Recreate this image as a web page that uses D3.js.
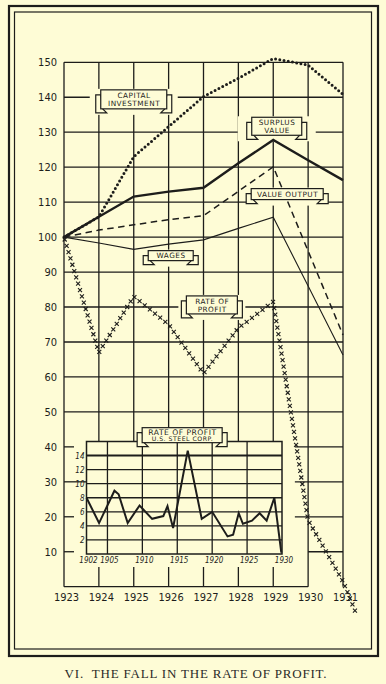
<!DOCTYPE html>
<html>
<head>
<meta charset="utf-8">
<script src="https://cdn.jsdelivr.net/npm/d3@7"></script>
<style>
  body { margin: 0; background: #fefcd6; }
  svg { display: block; }
</style>
</head>
<body>
<svg width="386" height="684"></svg>
<script>
// index numbers, 1923 = 100
var years = [1923, 1924, 1925, 1926, 1927, 1928, 1929, 1930, 1931];
var capitalInvestment = [100, 105.8, 123, 131.6, 140.2, 145.4, 151.1, 149.2, 140.8];
var surplusValue = [100, 105.8, 111.6, 113, 114.1, 121.1, 127.8, 122, 116.3];
var valueOutput = [100, 102, 103.5, 105, 106.1, 113.1, 120.1, 96, 72];
var wages = [100, 98.3, 96.5, 98, 99.2, 102.5, 105.7, 86, 66.3];
// rate of profit, the crosses run on a little past 1931
var profitYears = [1923, 1924, 1925, 1926, 1927, 1928, 1929, 1930, 1931, 1931.35];
var rateOfProfit = [100, 67, 83, 75, 61, 74, 81.5, 19, 1.5, -7];
var yTicks = [10, 20, 30, 40, 50, 60, 70, 80, 90, 100, 110, 120, 130, 140, 150];

// inset: rate of profit, U.S. Steel Corp. (per cent)
var steelYears = [1902, 1903.8, 1906, 1906.6, 1907.9, 1909.6, 1911.4, 1913, 1913.6, 1914.4,
  1916.5, 1918.5, 1920, 1922.2, 1923, 1923.8, 1924.4, 1925.7, 1926.8, 1927.8, 1928.9, 1929.9];
var steelProfit = [8, 4.4, 9, 8.5, 4.4, 6.9, 5, 5.4, 6.8, 3.7,
  14.7, 5, 6, 2.5, 2.75, 5.8, 4.3, 4.75, 5.8, 4.75, 8, 0.2];
var steelTicksX = [1902, 1905, 1910, 1915, 1920, 1925, 1930];
var steelTicksY = [2, 4, 6, 8, 10, 12, 14];

var seriesNames = ["CAPITAL|INVESTMENT", "SURPLUS|VALUE", "VALUE OUTPUT", "WAGES", "RATE OF|PROFIT"];
var insetTitle = ["RATE OF PROFIT", "U.S. STEEL CORP."];
var caption = "VI.  THE FALL IN THE RATE OF PROFIT.";

var bg = "#fefcd6", ink = "#1d1d1b";
var svg = d3.select("svg");
svg.append("rect").attr("width", 386).attr("height", 684).attr("fill", bg);

var x = d3.scaleLinear().domain([1923, 1931]).range([64, 343]);
var y = d3.scaleLinear().domain([0, 150]).range([586.7, 62.3]);
var xi = d3.scaleLinear().domain([1902, 1930]).range([86.5, 282]);
var yi = d3.scaleLinear().domain([0, 16]).range([554, 441.5]);

// banner placement (data coords of centre, box size)
var bannerLayout = [
  {at: [1925.0, 139.4], w: 66, h: 19, pad: 11},
  {at: [1929.1, 131.7], w: 50, h: 18, pad: 14},
  {at: [1929.4, 112.3], w: 72, h: 11, pad: 5},
  {at: [1926.06, 94.7], w: 45, h: 10, pad: 6},
  {at: [1927.24, 80.6], w: 51, h: 18, pad: 8}
];

// frame
svg.append("rect").attr("x", 9).attr("y", 6).attr("width", 369).attr("height", 650)
  .attr("fill", "none").attr("stroke", ink).attr("stroke-width", 2.2);
svg.append("rect").attr("x", 14.5).attr("y", 12).attr("width", 357).attr("height", 637)
  .attr("fill", "none").attr("stroke", ink).attr("stroke-width", 1.2);

var grid = svg.append("g").attr("stroke", ink).attr("stroke-width", 1.3);

// horizontal grid
grid.selectAll(".hfull").data(yTicks.filter(function(d) { return d >= 50; }))
  .enter().append("line")
  .attr("x1", x(1923)).attr("x2", x(1931))
  .attr("y1", function(d) { return y(d); }).attr("y2", function(d) { return y(d); });

var low = yTicks.filter(function(d) { return d < 50; });
grid.selectAll(".tick-left").data(low).enter().append("line")
  .attr("x1", x(1923))
  .attr("x2", function(d) { return d == 30 ? xi(1902) : x(1923) + 10; })
  .attr("y1", function(d) { return y(d); }).attr("y2", function(d) { return y(d); });
grid.selectAll(".tick-right").data(low).enter().append("line")
  .attr("x1", function(d) { return d == 10 ? x(1930) : x(1929.62); })
  .attr("x2", x(1931))
  .attr("y1", function(d) { return y(d); }).attr("y2", function(d) { return y(d); });

// gaps in the horizontal lines round the banners
svg.selectAll(".cover").data(bannerLayout).enter().append("rect")
  .attr("x", function(d) { return x(d.at[0]) - d.w / 2 - d.pad; })
  .attr("y", function(d) { return y(d.at[1]) - d.h / 2 - 1; })
  .attr("width", function(d) { return d.w + 2 * d.pad; })
  .attr("height", function(d) { return d.h + 7; })
  .attr("fill", bg);

// vertical grid
grid.selectAll(".v").data(years).enter().append("line")
  .attr("x1", function(d) { return x(d); }).attr("x2", function(d) { return x(d); })
  .attr("y1", y(150)).attr("y2", y(0));
grid.append("line").attr("x1", x(1923)).attr("x2", x(1930))
  .attr("y1", y(0)).attr("y2", y(0));

// axes labels
var axisFont = "'DejaVu Sans Condensed', 'DejaVu Sans', sans-serif";
var ya = svg.append("g").attr("transform", "translate(" + x(1923) + ",0)")
  .call(d3.axisLeft(y).tickValues(yTicks).tickSize(0).tickPadding(7).tickFormat(d3.format("d")));
ya.select(".domain").remove();
ya.selectAll("text").attr("font-family", axisFont).attr("font-stretch", "condensed")
  .attr("font-size", 11).attr("fill", ink);

var xa = svg.append("g").attr("transform", "translate(2," + y(0) + ")")
  .call(d3.axisBottom(x).tickValues(years).tickSize(0).tickPadding(6.5).tickFormat(d3.format("d")));
xa.select(".domain").remove();
xa.selectAll("text").attr("font-family", axisFont).attr("font-stretch", "condensed")
  .attr("font-size", 11).attr("fill", ink);

// ---- inset ----
var inset = svg.append("g");
inset.append("rect").attr("x", xi(1902)).attr("y", yi(16))
  .attr("width", xi(1930) - xi(1902)).attr("height", 567 - yi(16)).attr("fill", bg);
var ig = inset.append("g").attr("stroke", ink).attr("stroke-width", 1.3);
ig.selectAll(".h").data(steelTicksY).enter().append("line")
  .attr("x1", xi(1902)).attr("x2", xi(1930))
  .attr("y1", function(d) { return yi(d); }).attr("y2", function(d) { return yi(d); })
  .attr("stroke-width", function(d) { return d == 14 ? 2 : 1.3; });
ig.selectAll(".v").data(steelTicksX.slice(1, -1)).enter().append("line")
  .attr("x1", function(d) { return xi(d); }).attr("x2", function(d) { return xi(d); })
  .attr("y1", yi(16)).attr("y2", yi(0));
inset.append("rect").attr("x", xi(1902)).attr("y", yi(16))
  .attr("width", xi(1930) - xi(1902)).attr("height", yi(0) - yi(16))
  .attr("fill", "none").attr("stroke", ink).attr("stroke-width", 1.5);

inset.append("path")
  .datum(steelYears.map(function(d, i) { return [d, steelProfit[i]]; }))
  .attr("fill", "none").attr("stroke", ink).attr("stroke-width", 2).attr("stroke-linejoin", "miter")
  .attr("d", d3.line().x(function(d) { return xi(d[0]); }).y(function(d) { return yi(d[1]); }));

var insetFont = "'DejaVu Sans Condensed', 'DejaVu Sans', sans-serif";
var iya = inset.append("g").attr("transform", "translate(" + xi(1902) + ",0)")
  .call(d3.axisLeft(yi).tickValues(steelTicksY).tickSize(0).tickPadding(2));
iya.select(".domain").remove();
iya.selectAll("text").attr("font-family", insetFont).attr("font-style", "italic")
  .attr("font-size", 8).attr("fill", ink);
var ixa = inset.append("g").attr("transform", "translate(1.5," + yi(0) + ")")
  .call(d3.axisBottom(xi).tickValues(steelTicksX).tickSize(0).tickPadding(3).tickFormat(d3.format("d")));
ixa.select(".domain").remove();
ixa.selectAll("text").attr("font-family", insetFont).attr("font-style", "italic")
  .attr("font-size", 8).attr("fill", ink);

// ---- main series ----
function lineOf(xs, vs) {
  return d3.line().x(function(d) { return x(d[0]); }).y(function(d) { return y(d[1]); })
    (xs.map(function(d, i) { return [d, vs[i]]; }));
}
var lines = svg.append("g").attr("fill", "none").attr("stroke", ink);
lines.append("path").attr("d", lineOf(years, wages)).attr("stroke-width", 1.1);
lines.append("path").attr("d", lineOf(years, valueOutput)).attr("stroke-width", 1.5)
  .attr("stroke-dasharray", "6.5,4.5");
lines.append("path").attr("d", lineOf(years, surplusValue)).attr("stroke-width", 2.4);
lines.append("path").attr("d", lineOf(years, capitalInvestment)).attr("stroke-width", 3)
  .attr("stroke-linecap", "round").attr("stroke-dasharray", "0,4.3");

// rate of profit as a chain of small crosses along its path
var guide = svg.append("path").attr("d", lineOf(profitYears, rateOfProfit)).attr("fill", "none");
var len = guide.node().getTotalLength();
var marks = d3.range(2.5, len, 6.6).map(function(l) { return guide.node().getPointAtLength(l); });
guide.remove();
svg.append("g").selectAll("path").data(marks).enter().append("path")
  .attr("transform", function(p) { return "translate(" + p.x + "," + p.y + ")"; })
  .attr("d", "M-2,-2L2,2M-2,2L2,-2")
  .attr("stroke", ink).attr("stroke-width", 1.1).attr("fill", "none");

// ---- banners ----
function banner(cx, cy, w, h, textLines, sizes, offs) {
  var g = svg.append("g").attr("stroke", ink).attr("stroke-width", 1.2).attr("fill", bg);
  var x0 = cx - w / 2, x1 = cx + w / 2, y0 = cy - h / 2, y1 = cy + h / 2, f = 5;
  g.append("path").attr("d", "M" + x0 + "," + (y0 + f) + "H" + (x0 - f) + "V" + (y1 + 4) +
    "H" + (x0 + f + 1) + "L" + (x0 + 2) + "," + y1 + "Z");
  g.append("path").attr("d", "M" + x1 + "," + (y0 + f) + "H" + (x1 + f) + "V" + (y1 + 4) +
    "H" + (x1 - f - 1) + "L" + (x1 - 2) + "," + y1 + "Z");
  g.append("rect").attr("x", x0).attr("y", y0).attr("width", w).attr("height", h);
  textLines.forEach(function(t, i) {
    svg.append("text").attr("x", cx + 0.3).attr("y", cy + offs[i]).attr("dy", "0.36em")
      .attr("text-anchor", "middle").attr("font-family", "'DejaVu Sans', sans-serif")
      .attr("font-size", sizes[i]).attr("letter-spacing", 0.5).attr("fill", ink).text(t);
  });
}
function h4(h) { return h * 0.22; }
seriesNames.forEach(function(name, i) {
  var b = bannerLayout[i], parts = name.split("|");
  var offs = parts.length == 2 ? [-h4(b.h), h4(b.h)] : [0];
  banner(x(b.at[0]), y(b.at[1]), b.w, b.h, parts, parts.map(function() { return 7.3; }), offs);
});

banner(xi(1915.7), yi(16.9), 80, 15, insetTitle, [7.6, 6.2], [-3, 4]);

// caption
svg.append("text").attr("x", 196).attr("y", 677.5).attr("text-anchor", "middle")
  .attr("font-family", "'Liberation Serif', 'DejaVu Serif', serif").attr("font-size", 13)
  .attr("letter-spacing", 0.8).attr("fill", "#2a2a28").attr("xml:space", "preserve")
  .style("white-space", "pre").text(caption);
</script>
</body>
</html>
